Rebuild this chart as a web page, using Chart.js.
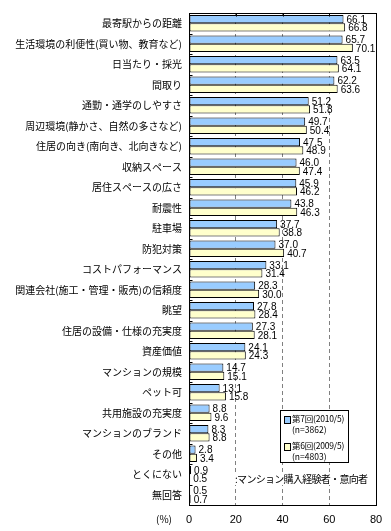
<!DOCTYPE html>
<html><head><meta charset="utf-8">
<script src="https://cdn.jsdelivr.net/npm/chart.js@4/dist/chart.umd.min.js"></script>
<style>
html,body{margin:0;padding:0;background:#fff;}
#wrap{position:relative;width:391px;height:531px;overflow:hidden;}
canvas{position:absolute;left:0;top:0;}
.t{position:absolute;font-family:"Noto Sans CJK JP";color:#000;white-space:nowrap;line-height:1;}
#legend{position:absolute;left:280px;top:410px;width:69px;height:53px;border:1px solid #000;background:#fff;box-sizing:border-box;}
.sw{position:absolute;width:5px;height:6px;border:1px solid #000;}
</style></head>
<body>
<div id="wrap">
<canvas id="c" width="391" height="531"></canvas>
<div class="t" id="note" style="left:235px;top:473px;font-size:10px;letter-spacing:-0.7px;background:#fff;padding:1px 0;">:マンション購入経験者・意向者</div>
<div id="legend"></div>
<div class="t" style="left:156px;top:514px;font-size:10px;">(%)</div>
</div>
<script>
const categories = [
  "最寄駅からの距離",
  "生活環境の利便性(買い物、教育など)",
  "日当たり・採光",
  "間取り",
  "通勤・通学のしやすさ",
  "周辺環境(静かさ、自然の多さなど)",
  "住居の向き(南向き、北向きなど)",
  "収納スペース",
  "居住スペースの広さ",
  "耐震性",
  "駐車場",
  "防犯対策",
  "コストパフォーマンス",
  "関連会社(施工・管理・販売)の信頼度",
  "眺望",
  "住居の設備・仕様の充実度",
  "資産価値",
  "マンションの規模",
  "ペット可",
  "共用施設の充実度",
  "マンションのブランド",
  "その他",
  "とくにない",
  "無回答"
];
const series7 = [66.1,65.7,63.5,62.2,51.2,49.7,47.5,46.0,45.9,43.8,37.7,37.0,33.1,28.3,27.8,27.3,24.1,14.7,13.1,8.8,8.3,2.8,0.9,0.5];
const series6 = [66.8,70.1,64.1,63.6,51.8,50.4,48.9,47.4,46.2,46.3,38.8,40.7,31.4,30.0,28.4,28.1,24.3,15.1,15.8,9.6,8.8,3.4,0.5,0.7];
const seriesNames = ["第7回(2010/5)","第6回(2009/5)"];
const seriesN = ["(n=3862)","(n=4803)"];
const xTicks = [0,20,40,60,80];
const colors = ["#99CCFF","#FFFFCC"];

// legend (HTML)
const lg = document.getElementById('legend');
const rowsY = [[4,15],[31,42]];
seriesNames.forEach((n,i)=>{
  const sw = document.createElement('div'); sw.className='sw';
  sw.style.left='3px'; sw.style.top=(rowsY[i][0]+1)+'px'; sw.style.background=colors[i];
  lg.appendChild(sw);
  const a = document.createElement('div'); a.className='t'; a.style.fontSize='8.5px'; a.style.letterSpacing='-0.2px';
  a.style.left='11px'; a.style.top=(rowsY[i][0]-1)+'px'; a.textContent=n; lg.appendChild(a);
  const b = document.createElement('div'); b.className='t'; b.style.fontSize='8.5px';
  b.style.left='11px'; b.style.top=(rowsY[i][1]-1)+'px'; b.textContent=seriesN[i]; lg.appendChild(b);
});

const framePlugin = {
  id:'frame',
  afterDatasetsDraw(chart){
    const ctx = chart.ctx;
    ctx.save();
    ctx.font = '10px "Liberation Sans"';
    ctx.fillStyle = '#000';
    ctx.textBaseline = 'middle';
    ctx.textAlign = 'left';
    chart.data.datasets.forEach((ds,di)=>{
      const meta = chart.getDatasetMeta(di);
      meta.data.forEach((bar,i)=>{
        ctx.fillText(ds.data[i].toFixed(1), bar.x+3, bar.y+1);
      });
    });
    ctx.restore();
  },
  afterDraw(chart){
    const ctx = chart.ctx, a = chart.chartArea;
    const ys = chart.scales.y, xs = chart.scales.x;
    ctx.save();
    ctx.strokeStyle = '#000'; ctx.lineWidth = 1;
    const L = Math.floor(a.left)+0.5, R = Math.round(a.right)+0.5, T = Math.floor(a.top)+0.5, B = Math.round(a.bottom)+0.5;
    ctx.strokeRect(L, T, R-L, B-T);
    ctx.beginPath();
    for (let i=1;i<categories.length;i++){
      const y = Math.round((ys.getPixelForValue(i-1)+ys.getPixelForValue(i))/2)+0.5;
      ctx.moveTo(L, y); ctx.lineTo(L+3, y);
    }
    [20,40,60].forEach(v=>{
      const x = Math.round(xs.getPixelForValue(v))+0.5;
      ctx.moveTo(x, T); ctx.lineTo(x, T+3);
    });
    ctx.stroke();
    ctx.restore();
  }
};

new Chart(document.getElementById('c'), {
  type:'bar',
  data:{
    labels:categories,
    datasets:[
      {label:seriesNames[0], data:series7, backgroundColor:colors[0], borderColor:'#000', borderWidth:1, borderSkipped:false},
      {label:seriesNames[1], data:series6, backgroundColor:colors[1], borderColor:'#000', borderWidth:1, borderSkipped:false}
    ]
  },
  options:{
    indexAxis:'y',
    responsive:false,
    animation:false,
    devicePixelRatio:1,
    categoryPercentage:0.8,
    barPercentage:1.0,
    layout:{padding:{left:0,right:15,top:5,bottom:0}},
    plugins:{legend:{display:false},tooltip:{enabled:false}},
    scales:{
      x:{
        min:0,max:80,
        afterBuildTicks(s){ s.ticks = xTicks.map(v=>({value:v})); },
        afterFit(s){ s.height = 26; },
        ticks:{font:{family:'"Liberation Sans"',size:11},color:'#000',padding:8,maxRotation:0},
        grid:{drawTicks:false,lineWidth:1,color:(c)=>(c.tick && (c.tick.value===0||c.tick.value===80))?'rgba(0,0,0,0)':'#808080'},
        border:{display:false,dash:[4,3]}
      },
      y:{
        afterFit(s){ s.width = 189; },
        ticks:{font:{family:'"Noto Sans CJK JP"',size:10},color:'#000',padding:7,autoSkip:false},
        grid:{display:false,drawTicks:false},
        border:{display:false}
      }
    }
  },
  plugins:[framePlugin]
});
</script>
</body></html>
